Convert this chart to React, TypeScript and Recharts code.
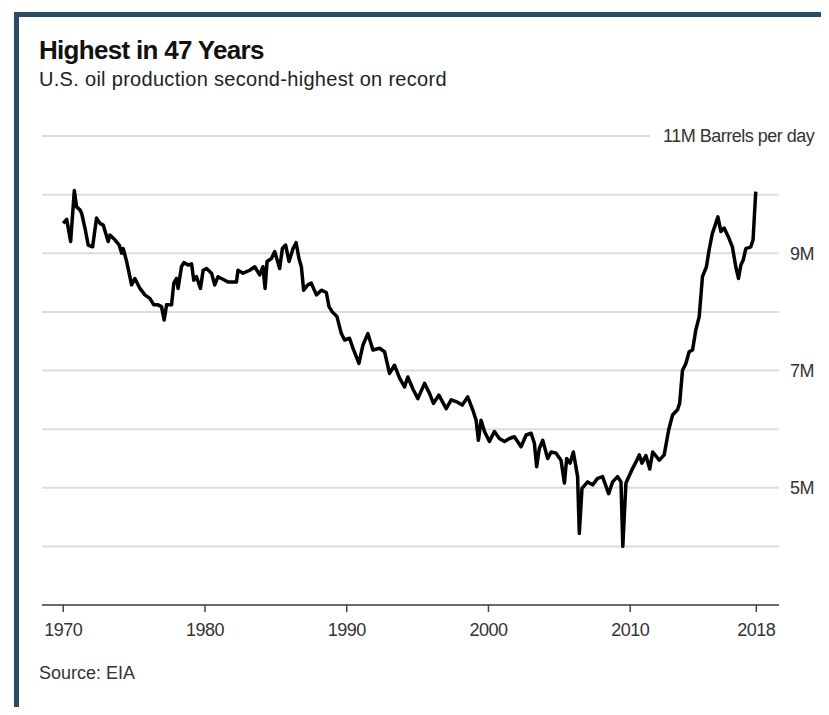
import React from 'react';
import { LineChart, Line, XAxis, YAxis, CartesianGrid } from 'recharts';

// [year position, million barrels per day]
const decade1970s: [number, number][] = [
  [1970.0, 9.51], [1970.24, 9.58], [1970.52, 9.2], [1970.78, 10.07], [1970.94, 9.79],
  [1971.18, 9.74], [1971.3, 9.68], [1971.53, 9.43], [1971.76, 9.14], [1972.07, 9.11],
  [1972.35, 9.6], [1972.59, 9.51], [1972.82, 9.48], [1973.17, 9.2], [1973.29, 9.31],
  [1973.64, 9.23], [1973.95, 9.14], [1974.12, 9.0], [1974.23, 9.08], [1974.47, 8.86],
  [1974.7, 8.6], [1974.82, 8.46], [1975.05, 8.57], [1975.41, 8.4], [1975.76, 8.29],
  [1976.11, 8.23], [1976.39, 8.12], [1976.69, 8.12], [1976.93, 8.09], [1977.12, 7.86],
  [1977.29, 8.12], [1977.64, 8.12], [1977.8, 8.49], [1977.99, 8.57], [1978.1, 8.4],
  [1978.34, 8.77], [1978.51, 8.84], [1978.81, 8.8], [1979.05, 8.82], [1979.21, 8.54],
  [1979.4, 8.6], [1979.68, 8.4], [1979.87, 8.71],
];

const decade1980s: [number, number][] = [
  [1980.11, 8.74], [1980.46, 8.66], [1980.69, 8.46], [1980.92, 8.6], [1981.63, 8.51],
  [1982.22, 8.51], [1982.33, 8.71], [1982.69, 8.66], [1983.16, 8.71], [1983.51, 8.77],
  [1983.86, 8.63], [1984.09, 8.77], [1984.24, 8.4], [1984.38, 8.86], [1984.69, 8.91],
  [1984.92, 9.03], [1985.27, 8.74], [1985.46, 9.08], [1985.69, 9.14], [1985.93, 8.86],
  [1986.21, 9.08], [1986.43, 9.18], [1986.63, 8.91], [1986.8, 8.77], [1986.96, 8.37],
  [1987.26, 8.46], [1987.5, 8.49], [1987.86, 8.29], [1988.21, 8.37], [1988.56, 8.33],
  [1988.75, 8.09], [1988.98, 8.0], [1989.31, 7.92], [1989.62, 7.63], [1989.85, 7.52],
];

const decade1990s: [number, number][] = [
  [1990.2, 7.55], [1990.44, 7.38], [1990.86, 7.12], [1991.14, 7.43], [1991.49, 7.63],
  [1991.85, 7.35], [1992.32, 7.38], [1992.67, 7.32], [1993.02, 6.95], [1993.37, 7.09],
  [1993.73, 6.87], [1994.08, 6.72], [1994.31, 6.89], [1994.66, 6.69], [1995.02, 6.52],
  [1995.49, 6.78], [1995.84, 6.61], [1996.12, 6.44], [1996.5, 6.58], [1997.02, 6.35],
  [1997.37, 6.5], [1997.72, 6.47], [1998.15, 6.41], [1998.54, 6.55], [1998.89, 6.33],
  [1999.13, 6.15], [1999.29, 5.81], [1999.48, 6.15], [1999.72, 5.96],
];

const decade2000s: [number, number][] = [
  [2000.07, 5.79], [2000.42, 5.96], [2000.77, 5.84], [2001.13, 5.79], [2001.48, 5.84],
  [2001.83, 5.87], [2002.3, 5.7], [2002.66, 5.9], [2003.01, 5.93], [2003.24, 5.76],
  [2003.4, 5.36], [2003.59, 5.67], [2003.83, 5.81], [2004.18, 5.5], [2004.42, 5.61],
  [2004.77, 5.59], [2005.12, 5.47], [2005.36, 5.08], [2005.52, 5.5], [2005.76, 5.42],
  [2005.99, 5.61], [2006.29, 5.19], [2006.41, 4.22], [2006.6, 4.99], [2007.0, 5.1],
  [2007.35, 5.05], [2007.7, 5.16], [2008.05, 5.19], [2008.48, 4.9], [2008.76, 5.1],
  [2009.11, 5.19], [2009.35, 5.1], [2009.48, 4.0], [2009.7, 5.08],
];

const decade2010s: [number, number][] = [
  [2010.11, 5.3], [2010.43, 5.45], [2010.64, 5.56], [2010.83, 5.42], [2011.11, 5.55],
  [2011.38, 5.32], [2011.59, 5.61], [2012.05, 5.47], [2012.4, 5.56], [2012.71, 5.98],
  [2012.99, 6.24], [2013.34, 6.33], [2013.49, 6.44], [2013.69, 7.0], [2013.93, 7.12],
  [2014.16, 7.32], [2014.4, 7.35], [2014.63, 7.69], [2014.87, 7.92], [2015.1, 8.6],
  [2015.38, 8.77], [2015.57, 9.06], [2015.8, 9.34], [2016.0, 9.48], [2016.19, 9.62],
  [2016.4, 9.37], [2016.63, 9.43], [2016.98, 9.25], [2017.21, 9.11], [2017.45, 8.77],
  [2017.64, 8.57], [2017.81, 8.8], [2017.97, 8.88], [2018.16, 9.08], [2018.51, 9.11],
  [2018.67, 9.23], [2018.86, 10.05],
];

const xTicks = [1970, 1980, 1990, 2000, 2010, 2018.9];
const xTickLabels = ['1970', '1980', '1990', '2000', '2010', '2018'];

const yTicks = [4, 5, 6, 7, 8, 9, 10, 11];
const yTickLabels: Record<number, string> = {
  5: '5M',
  7: '7M',
  9: '9M',
  11: '11M Barrels per day',
};

const production = [...decade1970s, ...decade1980s, ...decade1990s, ...decade2000s, ...decade2010s].map(
  ([year, mbpd]) => ({ year, mbpd })
);

const FONT = '"Liberation Sans", Arial, sans-serif';

const XTick = (props: any) => {
  const { x, y, payload } = props;
  const label = xTickLabels[xTicks.indexOf(payload.value)];
  return (
    <text x={x} y={y} dy="0.71em" textAnchor="middle" fill="#333" fontSize={18} letterSpacing={-0.5} fontFamily={FONT}>
      {label}
    </text>
  );
};

const YTick = (props: any) => {
  const { x, y, payload } = props;
  const label = yTickLabels[payload.value];
  if (!label) return null;
  if (payload.value === 11) {
    return (
      <g>
        <rect x={x - 140} y={y - 12} width={180} height={24} fill="#fff" />
        <text x={x - 127} y={y} dy="0.35em" fill="#333" fontSize={18} letterSpacing={-0.5} fontFamily={FONT}>
          {label}
        </text>
      </g>
    );
  }
  return (
    <text x={x} y={y} dy="0.35em" fill="#333" fontSize={18} letterSpacing={-0.5} fontFamily={FONT}>
      {label}
    </text>
  );
};

export default function App() {
  return (
    <div style={{ position: 'relative', width: 829, height: 715, margin: -8, background: '#fff', overflow: 'hidden', fontFamily: FONT }}>
      <div
        style={{
          position: 'absolute',
          left: 14,
          top: 12,
          right: 0,
          bottom: 0,
          borderTop: '5px solid #2d4a67',
          borderLeft: '5px solid #2d4a67',
        }}
      />
      <div style={{ position: 'absolute', left: 39, top: 37, fontSize: 26, lineHeight: '26px', fontWeight: 700, letterSpacing: -0.7, color: '#111', whiteSpace: 'nowrap' }}>
        Highest in 47 Years
      </div>
      <div style={{ position: 'absolute', left: 39, top: 69, fontSize: 20, lineHeight: '20px', letterSpacing: 0.3, color: '#222', whiteSpace: 'nowrap' }}>
        U.S. oil production second-highest on record
      </div>
      <div style={{ position: 'absolute', left: 39, top: 664, fontSize: 18, lineHeight: '18px', color: '#333', whiteSpace: 'nowrap' }}>
        Source: EIA
      </div>
      <div style={{ position: 'absolute', left: 0, top: 0 }}>
        <LineChart width={829} height={650} data={production} margin={{ top: 136, right: 0, bottom: 0, left: 42 }}>
          <CartesianGrid vertical={false} stroke="#dcdcdc" strokeWidth={2} />
          <XAxis
            dataKey="year"
            type="number"
            domain={[1968.5, 2020.5]}
            ticks={xTicks}
            interval={0}
            height={45}
            tickSize={7}
            tickMargin={11}
            axisLine={{ stroke: '#444', strokeWidth: 1.5 }}
            tickLine={{ stroke: '#444', strokeWidth: 1.5 }}
            tick={<XTick />}
          />
          <YAxis
            orientation="right"
            type="number"
            domain={[3, 11]}
            ticks={yTicks}
            interval={0}
            width={50}
            axisLine={false}
            tickLine={false}
            tickSize={0}
            tickMargin={11}
            tick={<YTick />}
          />
          <Line
            type="linear"
            dataKey="mbpd"
            stroke="#000"
            strokeWidth={3.5}
            strokeLinejoin="round"
            dot={false}
            isAnimationActive={false}
          />
        </LineChart>
      </div>
    </div>
  );
}
